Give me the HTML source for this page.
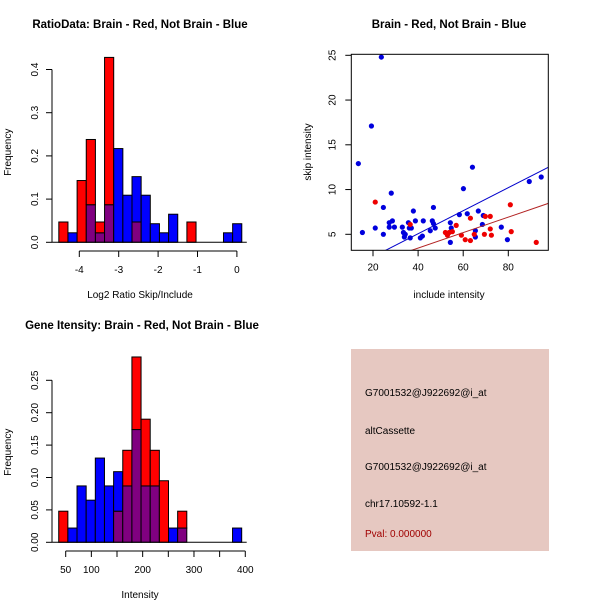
<!DOCTYPE html>
<html><head><meta charset="utf-8"><style>
body{margin:0;background:#fff}
svg{display:block;font-family:"Liberation Sans",sans-serif}
</style></head><body>
<svg id="c" width="600" height="600" viewBox="0 0 600 600">
<rect width="600" height="600" fill="#fff"/>
<text x="140" y="28" text-anchor="middle" font-weight="bold" font-size="11.5">RatioData: Brain - Red, Not Brain - Blue</text>
<text x="449" y="28" text-anchor="middle" font-weight="bold" font-size="11.5">Brain - Red, Not Brain - Blue</text>
<text x="142" y="329" text-anchor="middle" font-weight="bold" font-size="11.5">Gene Itensity: Brain - Red, Not Brain - Blue</text>
<g id="h1"></g>
<g id="sc"></g>
<g id="h2"></g>
<g font-size="10">
<rect x="351" y="349" width="198" height="202" fill="#e6c8c1"/>
<text x="365" y="396">G7001532@J922692@i_at</text>
<text x="365" y="434">altCassette</text>
<text x="365" y="470">G7001532@J922692@i_at</text>
<text x="365" y="507">chr17.10592-1.1</text>
<text x="365" y="537" fill="#a00000">Pval: 0.000000</text>
</g>
</svg>
<script>
const NS="http://www.w3.org/2000/svg";
const h1Start=-4.52, h1Width=0.2322;
const h1Red=[.047,0,.143,.238,.047,.428,0,0,.047,0,0,0,0,0,.047,0,0,0,0,0];
const h1Blue=[0,.022,0,.087,.022,.087,.217,.109,.152,.109,.043,.022,.065,0,0,0,0,0,.022,.043];
const h1XTicks=[-4,-3,-2,-1,0];
const h1YTicks=[0,0.1,0.2,0.3,0.4];
const h2Start=36.4, h2Width=17.83;
const h2Red=[.048,0,0,0,0,0,.048,.142,.286,.190,.142,.095,0,.048,0,0,0,0,0,0];
const h2Blue=[0,.022,.087,.065,.130,.087,.109,.087,.174,.087,.087,0,.022,.022,0,0,0,0,0,.022];
const h2XTicks=[50,100,150,200,250,300,350,400];
const h2XLabels=["50","100","","200","","300","","400"];
const h2YTicks=[0,0.05,0.10,0.15,0.20,0.25];
const blueX=[13.5,15.3,19.3,21.0,23.7,24.6,24.6,27.2,27.2,28.1,28.6,29.5,33.0,33.5,33.9,34.3,35.7,36.1,36.5,37.0,37.9,38.8,41.0,41.9,42.3,45.4,46.3,46.8,46.8,47.6,54.3,54.3,54.7,58.3,60.1,61.8,64.1,65.4,65.4,66.7,68.5,68.9,76.9,79.6,89.3,94.6];
const blueY=[12.9,5.2,17.1,5.7,24.8,8.0,5.0,6.3,5.8,9.6,6.5,5.8,5.8,5.2,4.7,5.0,6.3,5.7,4.6,5.7,7.6,6.5,4.6,4.8,6.5,5.4,6.5,8.0,6.2,5.7,6.3,4.1,5.7,7.2,10.1,7.3,12.5,5.4,4.7,7.6,6.1,7.1,5.8,4.4,10.9,11.4];
const redX=[21.0,36.5,52.1,53.0,53.8,55.2,56.9,59.2,60.9,63.2,63.2,64.9,69.4,69.8,72.0,72.0,72.5,80.9,81.3,92.4];
const redY=[8.6,6.1,5.2,4.9,5.2,5.3,6.0,4.9,4.4,6.8,4.3,5.0,5.0,7.0,7.0,5.6,4.9,8.3,5.3,4.1];
const blueFit=[-0.085,0.1287];
const redFit=[0.0,0.0865];
const scXTicks=[20,40,60,80];
const scYTicks=[5,10,15,20,25];

function el(p,t,a){const e=document.createElementNS(NS,t);for(const k in a)e.setAttribute(k,a[k]);p.appendChild(e);return e;}
function txt(p,x,y,s,rot,size){const e=el(p,"text",{x:x,y:y,"text-anchor":"middle","font-size":size||10});if(rot)e.setAttribute("transform","rotate(-90 "+x+" "+y+")");e.textContent=s;return e;}

function hist(g,start,w,red,blue,xs,y0,yk,xticks,xlabels,yticks,ylabFmt,axisY,xlab){
  const X=v=>xs[0]+(v-xs[1])*xs[2];
  const Y=v=>y0-v*yk;
  const draw=(i,lo,hi,col,nm)=>{if(hi<=lo)return;const r=el(g,"rect",{x:X(start+i*w),y:Y(hi),width:X(start+(i+1)*w)-X(start+i*w),height:Y(lo)-Y(hi),fill:col,stroke:"#000","stroke-width":1});
    
    };
  for(let i=0;i<red.length;i++){
    const m=Math.min(red[i],blue[i]);
    draw(i,0,m,"#800080","overlap");
    if(red[i]>m)draw(i,m,red[i],"#ff0000","red");
    if(blue[i]>m)draw(i,m,blue[i],"#0000ff","blue");
  }
  el(g,"line",{x1:52,x2:X(start+red.length*w)+5,y1:y0,y2:y0,stroke:"#000","stroke-width":1});
  const ax=el(g,"g",{stroke:"#000","stroke-width":1,fill:"none"});
  el(ax,"line",{x1:X(xticks[0]),x2:X(xticks[xticks.length-1]),y1:axisY,y2:axisY});
  xticks.forEach((t,i)=>{el(ax,"line",{x1:X(t),x2:X(t),y1:axisY,y2:axisY+6});txt(g,X(t),axisY+22,xlabels[i]);});
  el(ax,"line",{x1:52,x2:52,y1:Y(yticks[0]),y2:Y(yticks[yticks.length-1])});
  yticks.forEach(t=>{el(ax,"line",{x1:46,x2:52,y1:Y(t),y2:Y(t)});txt(g,38,Y(t),ylabFmt(t),true);});
  txt(g,140,axisY+47,xlab);
  txt(g,11,Y(0)-90,"Frequency",true);
}
const g1=document.getElementById("h1");
hist(g1,h1Start,h1Width,h1Red,h1Blue,[79.3,-4,39.4],242.3,432,h1XTicks,h1XTicks.map(String),h1YTicks,t=>t.toFixed(1),251,"Log2 Ratio Skip/Include");
const g2=document.getElementById("h2");
hist(g2,h2Start,h2Width,h2Red,h2Blue,[65.7,50,0.5131],542.3,648,h2XTicks,h2XLabels,h2YTicks,t=>t.toFixed(2),551,"Intensity");

const sc=document.getElementById("sc");
const L=351.3,R=548.3,T=54.3,B=250.3;
const SX=v=>373+(v-20)*2.255;
const SY=v=>234.3-(v-5)*8.95;
const clip=el(sc,"clipPath",{id:"cp"});el(clip,"rect",{x:L,y:T,width:R-L,height:B-T});
function fit(c,col,nm){const x1=10,x2=100;const l=el(sc,"line",{x1:SX(x1),y1:SY(c[0]+c[1]*x1),x2:SX(x2),y2:SY(c[0]+c[1]*x2),stroke:col,"stroke-width":1,"clip-path":"url(#cp)"});
  
  }
blueX.forEach((x,i)=>{const c=el(sc,"circle",{cx:SX(x),cy:SY(blueY[i]),r:2.6,fill:"#0000dd"});
  
  });
redX.forEach((x,i)=>{const c=el(sc,"circle",{cx:SX(x),cy:SY(redY[i]),r:2.6,fill:"#ee0000"});
  
  });
fit(blueFit,"#0000cc","blue-fit-line");
fit(redFit,"#b22222","red-fit-line");
el(sc,"rect",{x:L,y:T,width:R-L,height:B-T,fill:"none",stroke:"#000","stroke-width":1});
scXTicks.forEach(t=>{el(sc,"line",{x1:SX(t),x2:SX(t),y1:B,y2:B+6,stroke:"#000"});txt(sc,SX(t),B+20,String(t));});
scYTicks.forEach(t=>{el(sc,"line",{x1:L-6,x2:L,y1:SY(t),y2:SY(t),stroke:"#000"});txt(sc,L-16,SY(t),String(t),true);});
txt(sc,449,298,"include intensity");
txt(sc,311,152,"skip intensity",true);
</script>
</body></html>
